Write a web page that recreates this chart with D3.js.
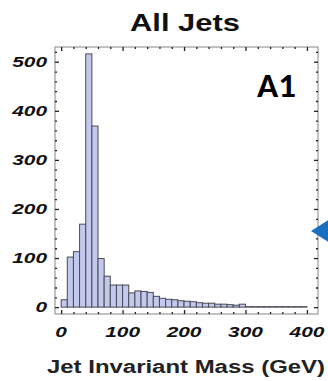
<!DOCTYPE html>
<html>
<head>
<meta charset="utf-8">
<script src="https://cdn.jsdelivr.net/npm/d3@7"></script>
<style>
  html, body { margin: 0; padding: 0; background: #fff; }
  svg { display: block; }
</style>
</head>
<body>
<script>
// ---- data ----
const binStarts = [0,10,20,30,40,50,60,70,80,90,100,110,120,130,140,150,160,170,180,190,
                   200,210,220,230,240,250,260,270,280,290,300,310,320,330,340,350,360,370,380,390];
const binWidth = 10;
const counts = [15,102,113,169,516,369,99,63,45,45,45,29,33,32,30,22,18,16,15,13,
                12,11,9,8,8,6,6,5,4,6,1,1,1,1,1,1,1,1,1,1];
const xTickLabels = [0,100,200,300,400];
const yTickLabels = [0,100,200,300,400,500];
const titleText = "All Jets";
const xLabelText = "Jet Invariant Mass (GeV)";
const panelText = "A1";

// ---- layout ----
const W = 328, H = 381;
const frame = {left: 55, right: 318, top: 47, bottom: 314};

const svg = d3.select("body").append("svg").attr("width", W).attr("height", H);

const x = d3.scaleLinear().domain([-10, 418]).range([frame.left, frame.right]);
const y = d3.scaleLinear().domain([-14, 530]).range([frame.bottom, frame.top]);

// bars
svg.append("g").selectAll("rect").data(binStarts).join("rect")
  .attr("x", (d) => x(d))
  .attr("width", (d) => x(d + binWidth) - x(d))
  .attr("y", (d, i) => y(counts[i]))
  .attr("height", (d, i) => y(0) - y(counts[i]))
  .attr("fill", "#c3c9ec")
  .attr("stroke", "#4a4a55")
  .attr("stroke-width", 1);

// frame
svg.append("rect")
  .attr("x", frame.left).attr("y", frame.top)
  .attr("width", frame.right - frame.left).attr("height", frame.bottom - frame.top)
  .attr("fill", "none").attr("stroke", "#9a9a9a").attr("stroke-width", 1.2);

// ticks (inward) on all four sides via d3 axes
const xMinor = d3.range(0, 401, 20).filter(v => v % 100 !== 0);
const yMinor = d3.range(0, 521, 20).filter(v => v % 100 !== 0);

function styleTicks(g) {
  g.select(".domain").remove();
  g.selectAll(".tick line").attr("stroke", "#222").attr("stroke-width", 1.3);
  g.selectAll(".tick text").remove();
}
// bottom
svg.append("g").attr("transform", `translate(0,${frame.bottom})`)
  .call(d3.axisTop(x).tickValues(xTickLabels).tickSize(4)).call(styleTicks);
svg.append("g").attr("transform", `translate(0,${frame.bottom})`)
  .call(d3.axisTop(x).tickValues(xMinor).tickSize(2)).call(styleTicks);
// top
svg.append("g").attr("transform", `translate(0,${frame.top})`)
  .call(d3.axisBottom(x).tickValues(xTickLabels).tickSize(4)).call(styleTicks);
svg.append("g").attr("transform", `translate(0,${frame.top})`)
  .call(d3.axisBottom(x).tickValues(xMinor).tickSize(2)).call(styleTicks);
// left
svg.append("g").attr("transform", `translate(${frame.left},0)`)
  .call(d3.axisRight(y).tickValues(yTickLabels).tickSize(4)).call(styleTicks);
svg.append("g").attr("transform", `translate(${frame.left},0)`)
  .call(d3.axisRight(y).tickValues(yMinor).tickSize(2)).call(styleTicks);
// right
svg.append("g").attr("transform", `translate(${frame.right},0)`)
  .call(d3.axisLeft(y).tickValues(yTickLabels).tickSize(4)).call(styleTicks);
svg.append("g").attr("transform", `translate(${frame.right},0)`)
  .call(d3.axisLeft(y).tickValues(yMinor).tickSize(2)).call(styleTicks);

// tick labels (bold italic, horizontally stretched like the source)
const numFont = "'Liberation Sans', Arial, sans-serif";
svg.append("g").selectAll("text").data(yTickLabels).join("text")
  .attr("x", 47)
  .attr("y", d => y(d) + 5)
  .attr("text-anchor", "end")
  .attr("font-family", numFont)
  .attr("font-weight", "bold")
  .attr("font-style", "italic")
  .attr("font-size", 15)
  .attr("textLength", d => String(d).length * 11.6)
  .attr("lengthAdjust", "spacingAndGlyphs")
  .attr("fill", "#111")
  .text(d => d);

svg.append("g").selectAll("text").data(xTickLabels).join("text")
  .attr("x", d => x(d))
  .attr("y", 337)
  .attr("text-anchor", "middle")
  .attr("font-family", numFont)
  .attr("font-weight", "bold")
  .attr("font-style", "italic")
  .attr("font-size", 15)
  .attr("textLength", d => String(d).length * 11.6)
  .attr("lengthAdjust", "spacingAndGlyphs")
  .attr("fill", "#111")
  .text(d => d);

// title
svg.append("text")
  .attr("x", 185).attr("y", 31)
  .attr("text-anchor", "middle")
  .attr("font-family", numFont)
  .attr("font-weight", "bold")
  .attr("font-size", 24)
  .attr("textLength", 110)
  .attr("lengthAdjust", "spacingAndGlyphs")
  .attr("fill", "#111")
  .text(titleText);

// x axis label
svg.append("text")
  .attr("x", 186).attr("y", 373)
  .attr("text-anchor", "middle")
  .attr("font-family", numFont)
  .attr("font-weight", "bold")
  .attr("font-size", 18)
  .attr("textLength", 278)
  .attr("lengthAdjust", "spacingAndGlyphs")
  .attr("fill", "#222")
  .text(xLabelText);

// panel label
svg.append("text")
  .attr("x", 257).attr("y", 97)
  .attr("font-family", "Carlito, 'Liberation Sans', Arial, sans-serif")
  .attr("font-weight", "bold")
  .attr("font-size", 35)
  .attr("fill", "#000")
  .text(panelText);

// blue arrow marker on the right edge
svg.append("path")
  .attr("d", "M311,231 L330,219 L330,243 Z")
  .attr("fill", "#1a6fbf");
</script>
</body>
</html>
